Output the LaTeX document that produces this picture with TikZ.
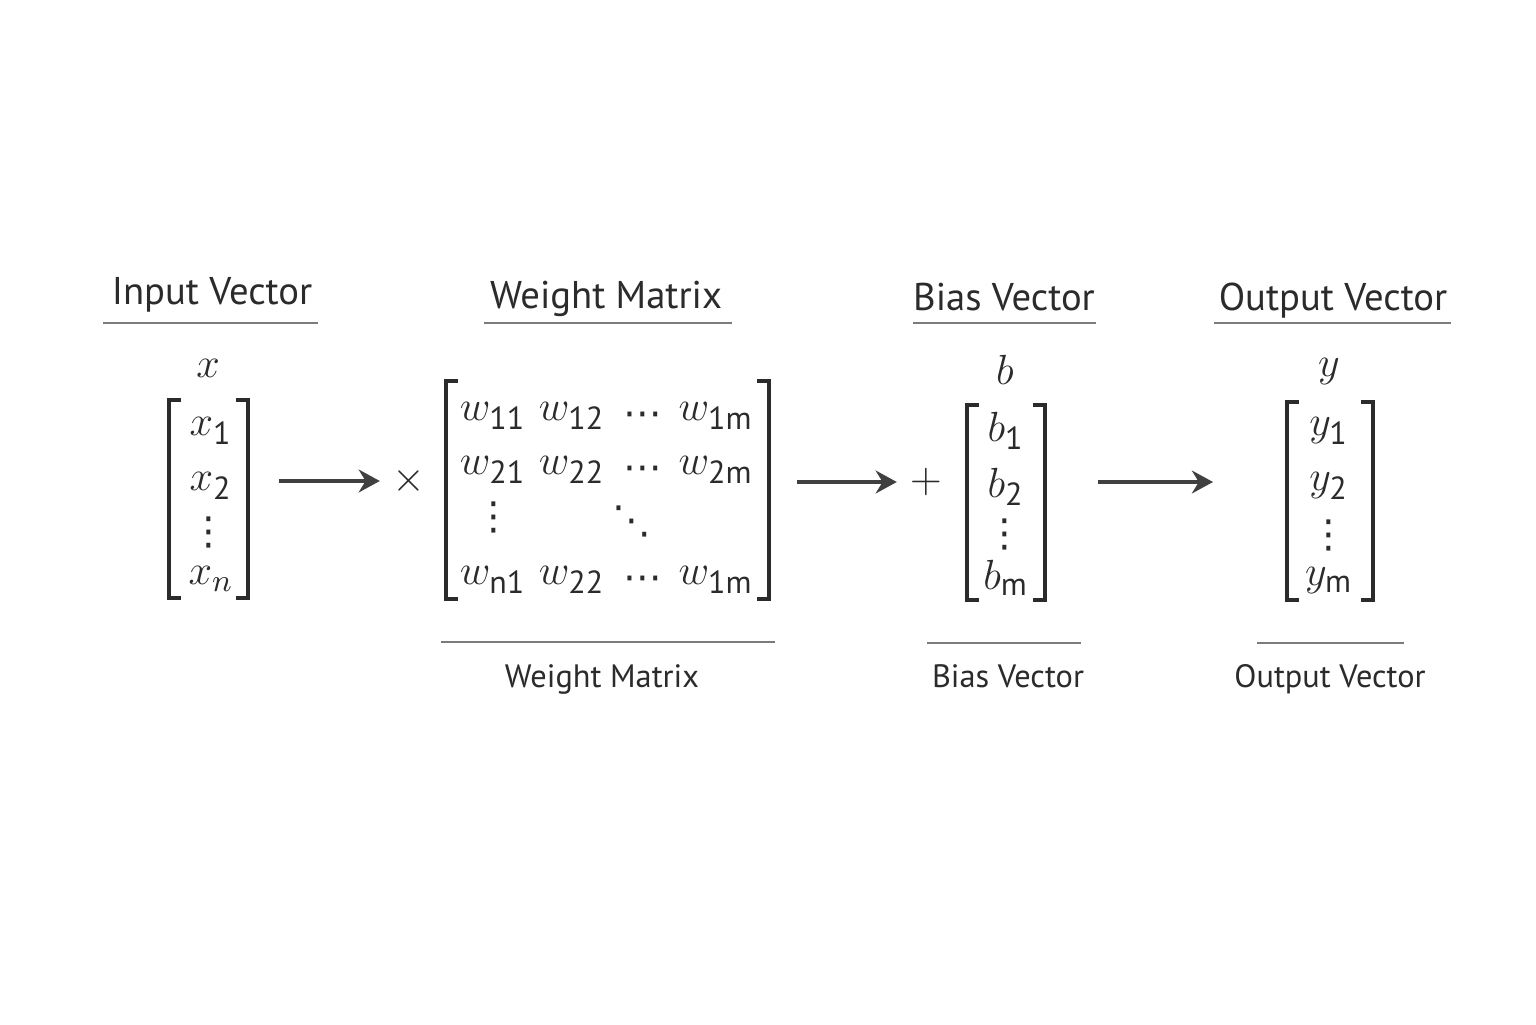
\documentclass[tikz,border=0pt]{standalone}
\usepackage{amsmath}
\usepackage{fontspec}
\setmainfont{PT Sans}
\newfontfamily\dotsfont{DejaVu Sans}
\usepackage{tikz}
\usetikzlibrary{arrows.meta,positioning}
\definecolor{inkdark}{HTML}{2B2B2B}
\definecolor{rulegray}{HTML}{7C7C7C}
\definecolor{arrowgray}{HTML}{404040}

\begin{document}
\begin{tikzpicture}[>={Stealth[length=6pt,width=6.5pt]}, text=inkdark,
   heading/.style={font=\fontsize{11}{13}\selectfont, anchor=base, inner sep=0},
   caption/.style={font=\fontsize{9.2}{11}\selectfont, anchor=base, inner sep=0},
   entry/.style={font=\fontsize{13}{15}\selectfont, inner sep=0},
   dotsnode/.style={font=\dotsfont\fontsize{11}{13}\selectfont, inner sep=0},
   opnode/.style={font=\fontsize{12}{14}\selectfont, minimum width=5.7mm, inner sep=0},
   vbox/.style={inner sep=0, outer sep=0},
   rule/.style={draw=rulegray, line width=0.6pt},
   bracket/.style={draw=inkdark, line width=0.9pt},
   flow/.style={->, draw=arrowgray, line width=1pt}]
   \useasboundingbox (0,0) rectangle (15.36,10.24);
   \fill[white] (0,0) rectangle (15.36,10.24);

   % headings with rules
   \node[heading] (hx) at (2.12,7.19) {Input Vector};
   \node[heading] (hw) at (6.06,7.16) {Weight Matrix};
   \node[heading] (hb) at (10.04,7.14) {Bias Vector};
   \node[heading] (hy) at (13.33,7.13) {Output Vector};
   \draw[rule] (1.03,7.01) -- (3.18,7.01);
   \draw[rule] (4.84,7.01) -- (7.32,7.01);
   \draw[rule] (9.13,7.01) -- (10.96,7.01);
   \draw[rule] (12.14,7.01) -- (14.51,7.01);

   % bracket boxes
   \node[vbox, minimum width=7.9mm, minimum height=19.8mm] (xv) at (2.085,5.25) {};
   \node[vbox, minimum width=32.3mm, minimum height=21.8mm] (wm) at (6.075,5.34) {};
   \node[vbox, minimum width=7.8mm, minimum height=19.5mm] (bv) at (10.06,5.215) {};
   \node[vbox, minimum width=8.6mm, minimum height=19.8mm] (yv) at (13.30,5.23) {};
   \foreach \v in {xv,wm,bv,yv} {
     \draw[bracket] ([xshift=1.2mm]\v.north west) -| (\v.south west) -- ++(1.2mm,0);
     \draw[bracket] ([xshift=-1.2mm]\v.north east) -| (\v.south east) -- ++(-1.2mm,0);
   }

   % input vector
   \node[entry] (xlab) at (2.08,6.56) {$x$};
   \node[entry] (x1) at (2.11,5.93) {$x_{\text{1}}$};
   \node[entry] (x2) at (2.11,5.38) {$x_{\text{2}}$};
   \node[dotsnode] (xd) at (2.09,4.92) {⋮};
   \node[entry] (xn) at (2.11,4.45) {$x_n$};

   % weight matrix
   \node[entry] (w11) at (4.93,6.08) {$w_{\text{11}}$};
   \node[entry] (w12) at (5.72,6.08) {$w_{\text{12}}$};
   \node[dotsnode] (c1) at (6.43,6.05) {⋯};
   \node[entry] (w1m) at (7.16,6.08) {$w_{\text{1m}}$};
   \node[entry] (w21) at (4.93,5.54) {$w_{\text{21}}$};
   \node[entry] (w22) at (5.72,5.54) {$w_{\text{22}}$};
   \node[dotsnode] (c2) at (6.43,5.51) {⋯};
   \node[entry] (w2m) at (7.16,5.54) {$w_{\text{2m}}$};
   \node[dotsnode] (vd) at (4.94,5.07) {⋮};
   \node[dotsnode] (dd) at (6.32,5.03) {⋱};
   \node[entry] (wn1) at (4.93,4.44) {$w_{\text{n1}}$};
   \node[entry] (wn2) at (5.72,4.44) {$w_{\text{22}}$};
   \node[dotsnode] (c3) at (6.43,4.41) {⋯};
   \node[entry] (wnm) at (7.16,4.44) {$w_{\text{1m}}$};

   % bias vector
   \node[entry] (blab) at (10.05,6.54) {$b$};
   \node[entry] (b1) at (10.06,5.93) {$b_{\text{1}}$};
   \node[entry] (b2) at (10.06,5.37) {$b_{\text{2}}$};
   \node[dotsnode] (bd) at (10.05,4.90) {⋮};
   \node[entry] (bm) at (10.06,4.46) {$b_{\text{m}}$};

   % output vector
   \node[entry] (ylab) at (13.29,6.52) {$y$};
   \node[entry] (y1) at (13.29,5.93) {$y_{\text{1}}$};
   \node[entry] (y2) at (13.29,5.38) {$y_{\text{2}}$};
   \node[dotsnode] (yd) at (13.29,4.89) {⋮};
   \node[entry] (ym) at (13.29,4.43) {$y_{\text{m}}$};

   % operators and arrows
   \node[opnode] (times) at (4.09,5.43) {$\times$};
   \node[opnode] (plus) at (9.26,5.42) {$+$};
   \draw[flow, shorten <=3.1mm] (xv.east |- times) -- (times);
   \draw[flow, shorten <=2.8mm] (wm.east |- plus) -- (plus);
   \draw[flow, shorten <=5.3mm, shorten >=7.4mm] (bv.east |- plus) -- (yv.west |- plus);

   % captions below
   \draw[rule] (4.41,3.82) -- (7.75,3.82);
   \draw[rule] (9.27,3.81) -- (10.81,3.81);
   \draw[rule] (12.57,3.81) -- (14.04,3.81);
   \node[caption] (cw) at (6.02,3.37) {Weight Matrix};
   \node[caption] (cb) at (10.08,3.37) {Bias Vector};
   \node[caption] (cy) at (13.30,3.37) {Output Vector};
\end{tikzpicture}
\end{document}
